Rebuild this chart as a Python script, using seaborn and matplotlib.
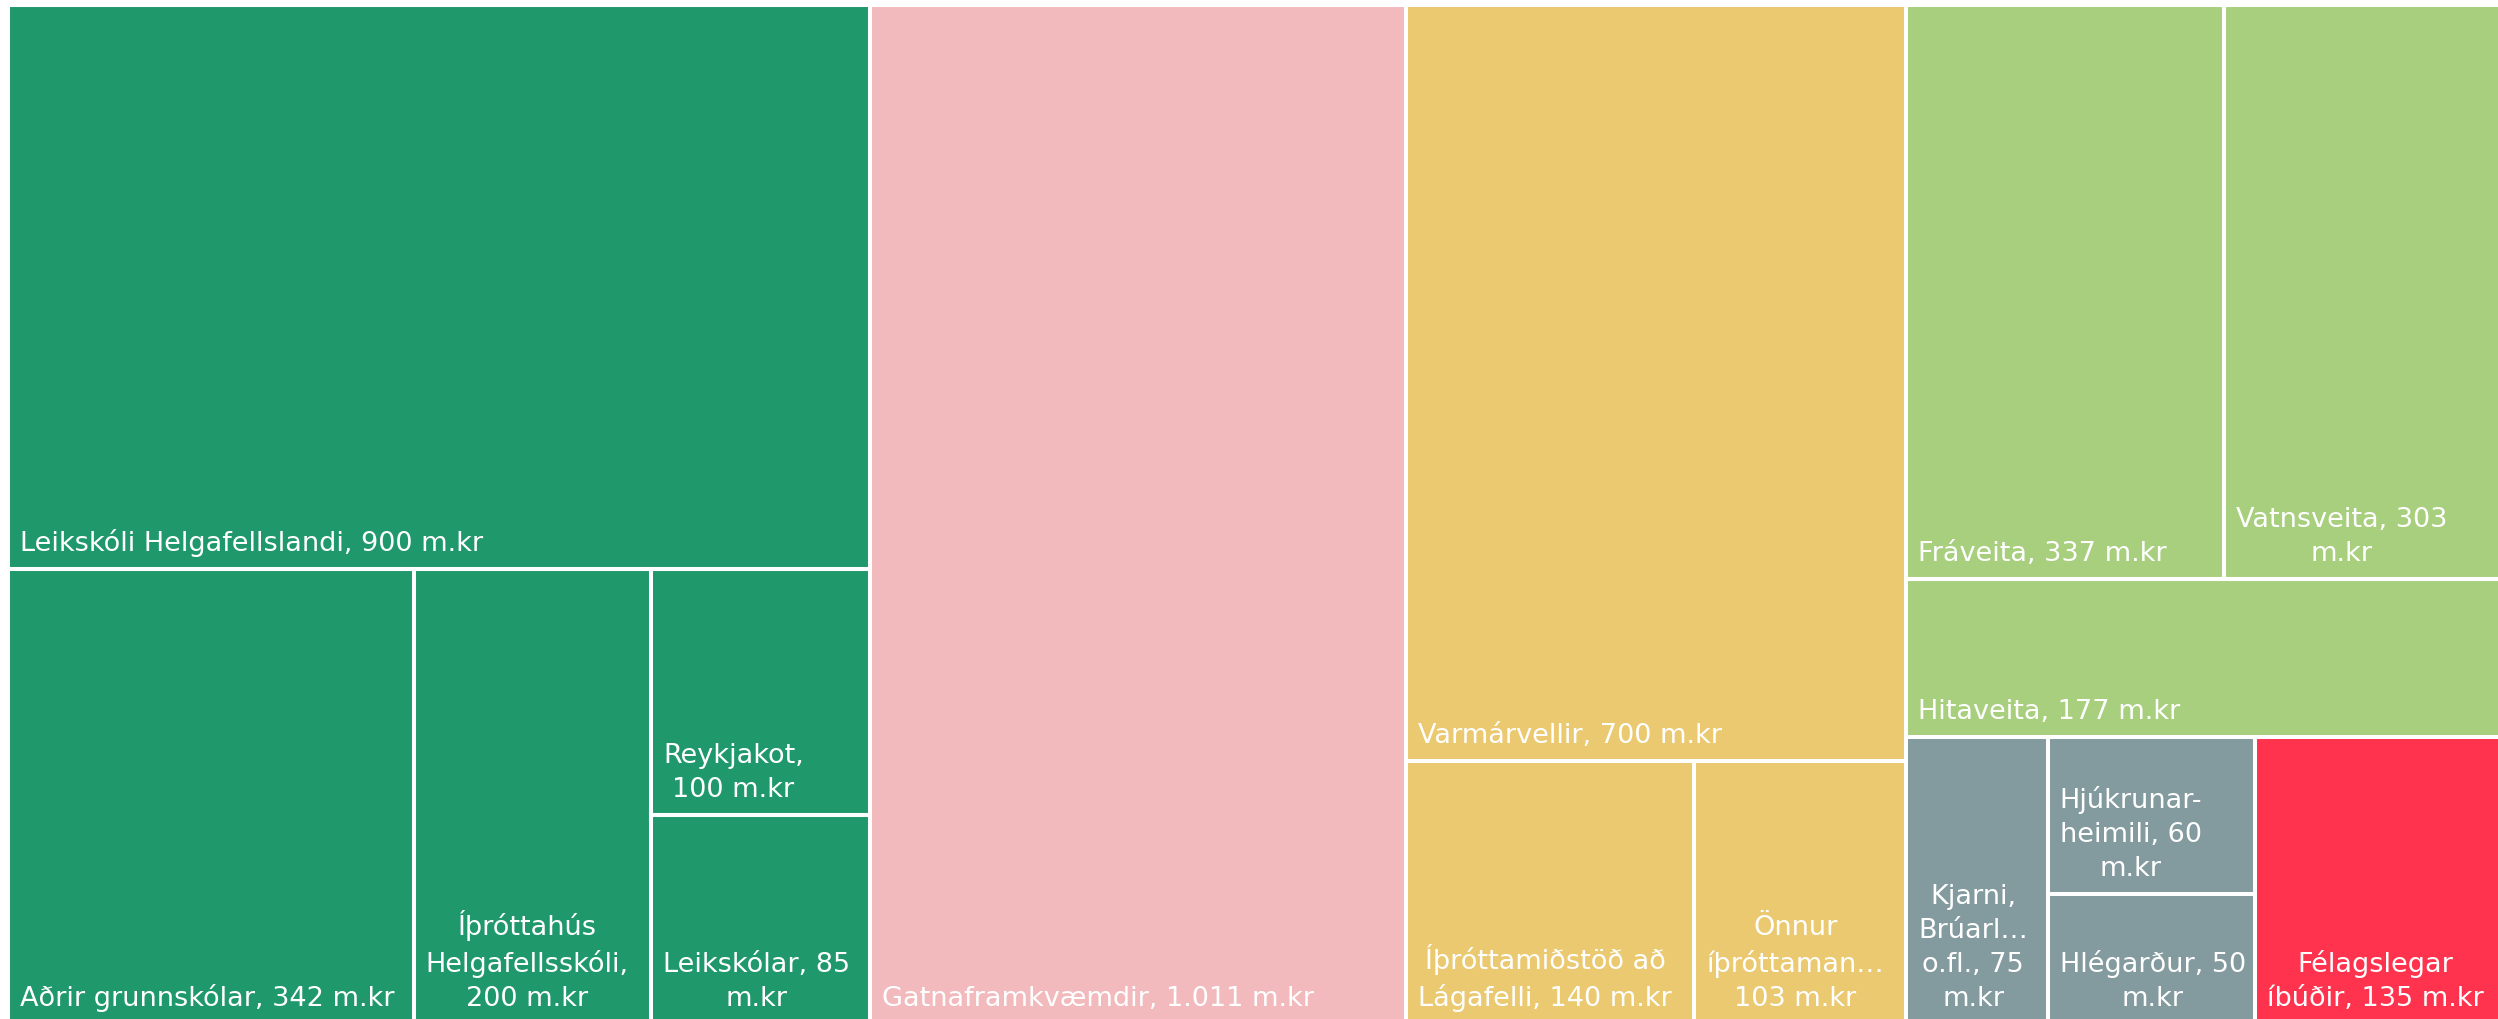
import matplotlib
matplotlib.use("Agg")
import matplotlib.pyplot as plt
from matplotlib.patches import Rectangle
import seaborn as sns

# Framkvæmdir (m.kr) - treemap
labels = [
    "Leikskóli Helgafellslandi, 900 m.kr",
    "Aðrir grunnskólar, 342 m.kr",
    "Íþróttahús\nHelgafellsskóli,\n200 m.kr",
    "Reykjakot,\n100 m.kr",
    "Leikskólar, 85\nm.kr",
    "Gatnaframkvæmdir, 1.011 m.kr",
    "Varmárvellir, 700 m.kr",
    "Íþróttamiðstöð að\nLágafelli, 140 m.kr",
    "Önnur\níþróttaman…\n103 m.kr",
    "Fráveita, 337 m.kr",
    "Vatnsveita, 303\nm.kr",
    "Hitaveita, 177 m.kr",
    "Kjarni,\nBrúarl…\no.fl., 75\nm.kr",
    "Hjúkrunar-\nheimili, 60\nm.kr",
    "Hlégarður, 50\nm.kr",
    "Félagslegar\níbúðir, 135 m.kr",
]
values = [900, 342, 200, 100, 85, 1011, 700, 140, 103, 337, 303, 177, 75, 60, 50, 135]
groups = ["skolar", "skolar", "skolar", "skolar", "skolar", "gotur",
          "ithrottir", "ithrottir", "ithrottir", "veitur", "veitur", "veitur",
          "annad", "annad", "annad", "ibudir"]
group_colors = {
    "skolar": "#1f996c",
    "gotur": "#f2babd",
    "ithrottir": "#eac970",
    "veitur": "#a8cf7e",
    "annad": "#839a9e",
    "ibudir": "#ff334d",
}

# how the cells nest: "h" = side by side, "v" = stacked; ints index the data
layout = ("h", [
    ("v", [0, ("h", [1, 2, ("v", [3, 4])])]),
    5,
    ("v", [6, ("h", [7, 8])]),
    ("v", [("v", [("h", [9, 10]), 11]),
           ("h", [("h", [12, ("v", [13, 14])]), 15])]),
])


def node_sum(node):
    if isinstance(node, int):
        return values[node]
    return sum(node_sum(c) for c in node[1])


def place(node, x, y, w, h, out):
    if isinstance(node, int):
        out[node] = (x, y, w, h)
        return
    kind, kids = node
    total = node_sum(node)
    for k in kids:
        frac = node_sum(k) / total
        if kind == "h":
            place(k, x, y, w * frac, h, out)
            x += w * frac
        else:
            place(k, x, y, w, h * frac, out)
            y += h * frac


sns.set_theme(style="white")
plt.rcParams["font.family"] = ["DejaVu Sans"]

fig = plt.figure(figsize=(24.98, 10.19), dpi=100)
ax = fig.add_axes([0, 0, 1, 1])
ax.set_xlim(0, 2498)
ax.set_ylim(1019, 0)
ax.axis("off")

rects = {}
place(layout, 8, 5, 2501, 1019, rects)

for i, lab in enumerate(labels):
    x, y, w, h = rects[i]
    ax.add_patch(Rectangle((x, y), w, h, facecolor=group_colors[groups[i]],
                           edgecolor="white", linewidth=2.9))
    ax.text(x + 12, y + h - 12, lab, color="white", fontsize=19.5,
            ha="left", va="bottom", multialignment="center", linespacing=1.4)

fig.savefig("out.png", dpi=100)
